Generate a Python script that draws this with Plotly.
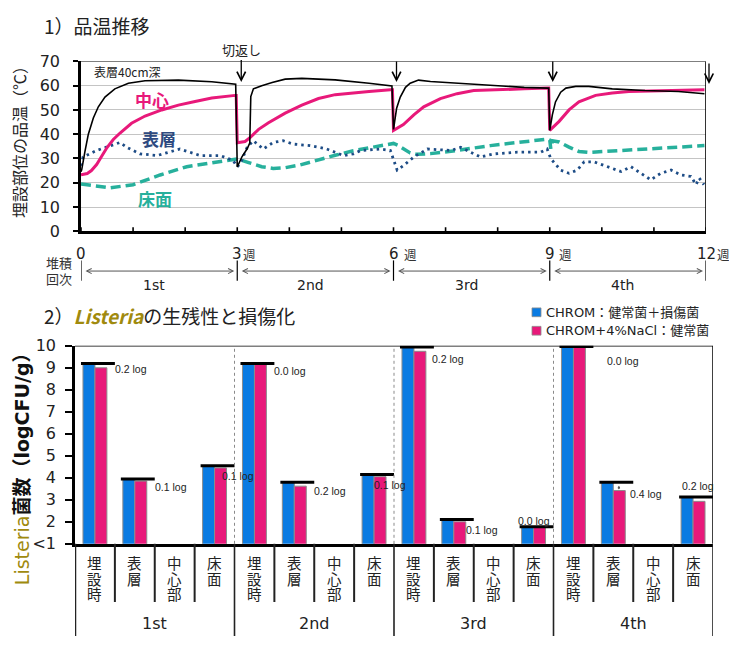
import plotly.graph_objects as go

W, H = 729, 646
LAT = "DejaVu Sans, Noto Sans CJK JP, sans-serif"
JP = "Noto Sans CJK JP, DejaVu Sans, sans-serif"

# ---------------- 1) pile temperatures (week, degC) ----------------
depth40_wk = [0, 0.013, 0.077, 0.141, 0.237, 0.333, 0.46, 0.65, 0.91, 1.23, 1.87, 2.51, 2.97,
              3.0, 3.09, 3.19, 3.24, 3.26, 3.31, 3.47, 3.67, 3.92, 4.24, 4.88, 5.53, 5.94, 5.97,
              6.0, 6.06, 6.13, 6.23, 6.32, 6.48, 6.71, 7.22, 7.86, 8.51, 8.96, 8.98,
              9.0, 9.05, 9.11, 9.21, 9.31, 9.5, 9.75, 10.2, 10.83, 11.47, 11.97]
depth40_c = [24.5, 25.3, 33.0, 40.0, 46.7, 51.3, 55.3, 58.7, 61.0, 62.0, 62.3, 61.6, 60.6,
             26.5, 30.7, 34.0, 36.3, 55.5, 58.7, 60.0, 61.3, 62.7, 63.0, 62.4, 61.0, 60.0, 59.9,
             42.0, 50.7, 55.3, 59.3, 61.0, 62.3, 61.7, 61.0, 60.3, 59.3, 59.0, 59.0,
             41.6, 48.0, 53.3, 57.3, 59.0, 59.7, 59.7, 58.7, 58.0, 57.6, 56.7]

core_wk = [0, 0.12, 0.2, 0.3, 0.4, 0.5, 0.62, 0.75, 0.97, 1.23, 1.55, 1.87, 2.19, 2.51, 2.96, 2.98,
           3.0, 3.15, 3.25, 3.41, 3.6, 3.92, 4.24, 4.56, 4.88, 5.2, 5.53, 5.94, 5.98,
           6.0, 6.19, 6.39, 6.58, 6.9, 7.22, 7.54, 7.86, 8.51, 8.96, 8.98,
           9.0, 9.18, 9.37, 9.56, 9.88, 10.2, 10.52, 10.83, 11.47, 11.97]
core_c = [23.3, 23.8, 25.0, 27.5, 31.0, 34.5, 37.8, 40.5, 44.5, 47.5, 50.0, 52.0, 53.5, 54.9, 56.0, 56.0,
          36.5, 37.0, 38.7, 42.0, 44.7, 48.7, 52.0, 54.7, 56.3, 57.0, 57.6, 58.3, 58.3,
          41.6, 44.0, 48.0, 51.3, 54.7, 56.7, 58.0, 58.3, 58.7, 59.0, 59.0,
          41.6, 45.3, 50.0, 53.3, 56.0, 57.0, 57.6, 57.7, 58.0, 58.3]

surface_wk = [0, 0.04, 0.3, 0.56, 0.75, 0.88, 1.13, 1.46, 1.9, 2.29, 2.67, 2.92, 3.0, 3.06, 3.19,
              3.31, 3.5, 3.69, 3.88, 4.08, 4.4, 4.72, 5.04, 5.23, 5.37, 5.75, 5.94, 6.07, 6.2,
              6.39, 6.65, 7.1, 7.29, 7.67, 7.93, 8.38, 8.83, 8.95, 9.02, 9.21, 9.37, 9.53, 9.66,
              9.85, 10.1, 10.37, 10.56, 10.75, 10.94, 11.13, 11.33, 11.52, 11.71, 11.81, 11.87, 11.96]
surface_c = [27.0, 30.6, 33.3, 35.3, 36.6, 34.6, 31.9, 31.2, 33.9, 31.2, 31.2, 29.2, 26.6, 27.9, 34.6,
             37.3, 33.9, 36.6, 37.3, 35.9, 35.3, 33.9, 31.2, 31.9, 33.3, 33.9, 33.3, 25.2, 27.2,
             30.6, 33.9, 33.3, 34.6, 30.6, 31.9, 32.6, 32.6, 33.9, 29.9, 25.2, 23.9, 25.2, 28.6,
             28.6, 26.6, 24.6, 26.6, 23.9, 21.2, 23.9, 25.2, 23.2, 22.6, 19.2, 21.9, 19.2]

floor_wk = [0, 0.27, 0.56, 1.0, 1.52, 2.03, 2.51, 2.83, 3.0, 3.22, 3.47, 3.69, 3.92, 4.2, 4.56,
            4.88, 5.21, 5.53, 5.85, 6.0, 6.08, 6.19, 6.32, 6.45, 6.71, 7.22, 7.86, 8.51, 8.96,
            9.0, 9.02, 9.05, 9.18, 9.37, 9.56, 9.75, 10.2, 10.83, 11.47, 11.97]
floor_c = [19.5, 18.6, 17.9, 19.2, 23.2, 26.6, 28.3, 29.3, 29.8, 28.3, 26.6, 25.9, 26.2, 27.3, 29.5,
           31.3, 33.1, 34.5, 35.6, 36.2, 35.5, 34.0, 32.3, 31.7, 32.0, 33.3, 35.3, 36.9, 38.0,
           37.6, 34.0, 37.3, 36.8, 34.7, 32.9, 32.5, 33.1, 34.0, 34.9, 35.3]

week_ticks = [0, 3, 6, 9, 12]
turn_weeks = [3, 6, 9, 12]
pile_rounds = ["1st", "2nd", "3rd", "4th"]

# ---------------- 2) Listeria counts (log CFU/g) ----------------
sites = ["埋設時", "表層", "中心部", "床面"]
rounds = ["1st", "2nd", "3rd", "4th"]
chrom = [9.2, 3.95, None, 4.55, 9.2, 3.8, None, 4.15, 9.95, 2.1, None, 1.78, 9.97, 3.8, None, 3.13]
chrom_nacl = [9.0, 3.85, None, 4.45, 9.2, 3.62, None, 4.05, 9.75, 2.0, None, 1.78, 9.97, 3.42, None, 2.93]
y_ticks = [1, 2, 3, 4, 5, 6, 7, 8, 9, 10]
y_ticktext = ["<1", "2", "3", "4", "5", "6", "7", "8", "9", "10"]

C_BLACK = "#000000"
C_PINK = "#E8197A"
C_NAVY = "#1D4C86"
C_TEAL = "#27B09C"
C_BLUE = "#0A7BE2"
C_OLIVE = "#A08A0E"


def py(p):
    return 1 - p / H


def pxx(p):
    return p / W


fig = go.Figure()

# temperature lines
fig.add_trace(go.Scatter(x=floor_wk, y=floor_c, mode="lines", line=dict(color=C_TEAL, width=3.5, dash="10px,5px"),
                         xaxis="x", yaxis="y", showlegend=False))
fig.add_trace(go.Scatter(x=surface_wk, y=surface_c, mode="lines", line=dict(color=C_NAVY, width=2.8, dash="2.5px,4px"),
                         xaxis="x", yaxis="y", showlegend=False))
fig.add_trace(go.Scatter(x=core_wk, y=core_c, mode="lines", line=dict(color=C_PINK, width=3),
                         xaxis="x", yaxis="y", showlegend=False))
fig.add_trace(go.Scatter(x=depth40_wk, y=depth40_c, mode="lines", line=dict(color=C_BLACK, width=1.6),
                         xaxis="x", yaxis="y", showlegend=False))

# Listeria bars
xs = list(range(len(chrom)))
fig.add_trace(go.Bar(x=xs, y=chrom, marker=dict(color=C_BLUE, line=dict(color="#8C8C8C", width=1)),
                     xaxis="x2", yaxis="y2", showlegend=False))
fig.add_trace(go.Bar(x=xs, y=chrom_nacl, marker=dict(color=C_PINK, line=dict(color="#8C8C8C", width=1)),
                     xaxis="x2", yaxis="y2", showlegend=False))

# reference bars (total count level) above each pair
lx, ly = [], []
for i, v in enumerate(chrom):
    if v is None:
        continue
    lx += [i - 0.35, i + 0.5, None]
    ly += [v, v, None]
fig.add_trace(go.Scatter(x=lx, y=ly, mode="lines", line=dict(color="black", width=3),
                         xaxis="x2", yaxis="y2", showlegend=False, hoverinfo="skip"))

shapes = []
ann = []

# ---- top panel frame and ticks
shapes.append(dict(type="line", xref="x", yref="y", x0=0, x1=12, y0=70, y1=70, line=dict(color="black", width=1.3)))
shapes.append(dict(type="line", xref="x", yref="y", x0=12, x1=12, y0=0, y1=70, line=dict(color="black", width=1.6)))
for w in range(0, 13):
    shapes.append(dict(type="line", xref="x", yref="y", ysizemode="pixel", yanchor=0, x0=w, x1=w,
                       y0=-5, y1=4, line=dict(color="black", width=1.6)))

# week labels
wk_shift = {3: 4, 6: 8, 9: 7, 12: 9}
for w in week_ticks:
    ann.append(dict(x=w, xref="x", y=py(252), yref="paper", text=str(w), showarrow=False,
                    font=dict(family=LAT, size=15, color="#222"), xanchor="center", yanchor="middle"))
    if w in wk_shift:
        ann.append(dict(x=w, xref="x", y=py(253), yref="paper", text="週", showarrow=False, xshift=wk_shift[w],
                        font=dict(family=JP, size=12.5, color="#333"), xanchor="left", yanchor="middle"))

# round ranges under the time axis
for w in week_ticks:
    shapes.append(dict(type="line", xref="x", yref="paper", x0=w, x1=w, y0=py(280), y1=py(259),
                       line=dict(color="black", width=1.2)))
for k, lab in enumerate(pile_rounds):
    a, b = 3 * k, 3 * k + 3
    ann.append(dict(x=b, y=py(270), xref="x", yref="paper", ax=a, ay=0, axref="x", ayref="pixel",
                    text="", showarrow=True, arrowhead=5, startarrowhead=5, arrowside="end+start",
                    arrowsize=1.0, arrowwidth=1, arrowcolor="#555", standoff=3, startstandoff=3))
    ann.append(dict(x=a + 1.5, xref="x", y=py(284), yref="paper", text=lab, showarrow=False, xshift=-5,
                    font=dict(family=LAT, size=14, color="#222"), xanchor="center", yanchor="middle"))
ann.append(dict(x=pxx(59), xref="paper", y=py(262), yref="paper", text="堆積", showarrow=False,
                font=dict(family=LAT, size=13, color="#333"), xanchor="center", yanchor="middle", borderpad=0))
ann.append(dict(x=pxx(59), xref="paper", y=py(278.5), yref="paper", text="回次", showarrow=False,
                font=dict(family=LAT, size=13, color="#333"), xanchor="center", yanchor="middle", borderpad=0))

# turning arrows
for w in turn_weeks:
    tip = 60.7 if w == 12 else 61.5
    ann.append(dict(x=w, xref="x", y=tip, yref="y", ax=0, ay=(-33 if w == 3 else -22), axref="pixel", ayref="pixel",
                    text=("切返し" if w == 3 else ""), showarrow=True, arrowhead=5, arrowsize=1.3,
                    arrowwidth=1.3, arrowcolor="black", font=dict(family=JP, size=13, color="#222"),
                    xshift=(4 if w == 3 else 3)))

# series labels
ann.append(dict(x=0.9, xref="x", y=66.0, yref="y", text="表層40cm深", showarrow=False,
                font=dict(family=JP, size=12, color="#222")))
ann.append(dict(x=1.37, xref="x", y=54.4, yref="y", text="<b>中心</b>", showarrow=False,
                font=dict(family=JP, size=17, color=C_PINK)))
ann.append(dict(x=1.50, xref="x", y=38.2, yref="y", text="<b>表層</b>", showarrow=False,
                font=dict(family=JP, size=17, color="#2E4A80")))
ann.append(dict(x=1.42, xref="x", y=13.7, yref="y", text="<b>床面</b>", showarrow=False,
                font=dict(family=JP, size=17, color=C_TEAL)))

# titles
ann.append(dict(x=pxx(42), xref="paper", y=py(17), yref="paper", text="1）品温推移", showarrow=False,
                font=dict(family=JP, size=19, color="#222"), xanchor="left", yanchor="middle"))
ann.append(dict(x=pxx(42), xref="paper", y=py(316), yref="paper",
                text=f"2）<b><i><span style='color:{C_OLIVE}'>Listeria</span></i></b>の生残性と損傷化",
                showarrow=False, font=dict(family=JP, size=19, color="#222"), xanchor="left", yanchor="middle"))
ann.append(dict(x=pxx(19), xref="paper", y=py(133), yref="paper", text="埋設部位の品温（℃）", textangle=-90,
                showarrow=False, font=dict(family=JP, size=16, color="#222"), xanchor="center", yanchor="middle"))
ann.append(dict(x=pxx(22), xref="paper", y=py(469), yref="paper",
                text=f"<span style='color:{C_OLIVE}'>Listeria</span><b>菌数（logCFU/g）</b>", textangle=-90,
                showarrow=False, font=dict(family=LAT, size=19, color="#111"), xanchor="center", yanchor="middle"))

# legend (manual)
for row, (col, lab) in enumerate([(C_BLUE, "CHROM：健常菌＋損傷菌"), (C_PINK, "CHROM+4%NaCl：健常菌")]):
    yc = 312.5 + row * 19
    shapes.append(dict(type="rect", xref="paper", yref="paper", x0=pxx(532), x1=pxx(541), y0=py(yc + 4.5),
                       y1=py(yc - 4.5), fillcolor=col, line=dict(color="#8C8C8C", width=0.8)))
    ann.append(dict(x=pxx(544), xref="paper", y=py(yc), yref="paper", text=lab, showarrow=False,
                    font=dict(family=LAT, size=13, color="#222"), xanchor="left", yanchor="middle"))

# ---- bottom panel frame, separators and category boxes
shapes.append(dict(type="line", xref="x2", yref="y2", x0=-0.5, x1=15.5, y0=10, y1=10, line=dict(color="black", width=1.5)))
for g in [3.5, 7.5, 11.5]:
    shapes.append(dict(type="line", xref="x2", yref="y2", x0=g, x1=g, y0=1, y1=10,
                       line=dict(color="#8A8A8A", width=1, dash="dot")))
for g in [-0.5, 3.5, 7.5, 11.5, 15.5]:
    shapes.append(dict(type="line", xref="x2", yref="paper", x0=g, x1=g, y0=0, y1=py(551),
                       line=dict(color="#222", width=(2.5 if g == -0.5 else 1.6))))
shapes.append(dict(type="line", xref="x2", yref="y2", x0=15.5, x1=15.5, y0=1, y1=10, line=dict(color="black", width=1.5)))
for i in range(15):
    if i % 4 == 3:
        continue
    shapes.append(dict(type="line", xref="x2", yref="paper", x0=i + 0.5, x1=i + 0.5, y0=py(611), y1=py(551),
                       line=dict(color="#222", width=2)))

# category labels (one character per row)
for i in range(16):
    word = sites[i % 4]
    for k, ch in enumerate(word):
        ann.append(dict(x=i, xref="x2", y=py(572 + 16 * k), yref="paper", text=ch, showarrow=False, borderpad=0,
                        font=dict(family=LAT, size=14.5, color="#222"), xanchor="center", yanchor="middle"))
for g, lab in enumerate(rounds):
    ann.append(dict(x=4 * g + 1.5, xref="x2", y=py(633), yref="paper", text=lab, showarrow=False,
                    font=dict(family=LAT, size=16, color="#222"), xanchor="center", yanchor="middle"))

# difference labels between the two media
lab_pos = {0: (0.45, -1), 1: (0.45, -6), 3: (0.14, -8), 4: (0.45, -8), 5: (0.45, -5), 7: (-0.05, -8),
           8: (0.4, -8), 9: (0.25, -8), 11: (-0.45, 6), 12: (0.78, -15), 13: (0.36, -3), 15: (-0.32, 15)}
for i, (b, p) in enumerate(zip(chrom, chrom_nacl)):
    if b is None:
        continue
    dx, dy = lab_pos[i]
    ann.append(dict(x=i + dx, xref="x2", y=p, yref="y2", yshift=dy, text=f"{b - p:.1f} log", showarrow=False,
                    font=dict(family="Liberation Sans, Arial, sans-serif", size=10.5, color="#222"),
                    xanchor="left", yanchor="middle"))
# small gap marker for the largest difference
ann.append(dict(x=13.14, xref="x2", y=chrom_nacl[13], yref="y2", ax=13.14, ay=chrom[13], axref="x2", ayref="y2",
                text="", showarrow=True, arrowhead=2, startarrowhead=2, arrowside="end+start", arrowsize=0.5,
                arrowwidth=1, arrowcolor="#555", standoff=1, startstandoff=2))

fig.update_layout(
    width=W, height=H, margin=dict(l=0, r=0, t=0, b=0),
    paper_bgcolor="white", plot_bgcolor="white",
    barmode="group", bargap=0.4, bargroupgap=0,
    showlegend=False,
    xaxis=dict(domain=[pxx(81), pxx(706)], range=[0, 12], anchor="y", showgrid=False, zeroline=False,
               showline=True, linecolor="black", linewidth=2.5, ticks="", showticklabels=False, fixedrange=True),
    yaxis=dict(domain=[py(229), py(54)], range=[0, 70], anchor="x", tickvals=list(range(0, 71, 10)),
               showgrid=True, gridcolor="#C4C4C4", gridwidth=1, zeroline=False, showline=True,
               linecolor="black", linewidth=2.5, ticks="outside", ticklen=5, tickwidth=1.5, tickcolor="black",
               tickfont=dict(family=LAT, size=16, color="#222"), ticklabelstandoff=10),
    xaxis2=dict(domain=[pxx(75), pxx(713)], range=[-0.5, 15.5], anchor="y2", showgrid=False, zeroline=False,
                showline=True, linecolor="black", linewidth=3, ticks="", showticklabels=False),
    yaxis2=dict(domain=[py(551), py(347)], range=[1, 10], anchor="x2", tickvals=y_ticks, ticktext=y_ticktext,
                showgrid=False, zeroline=False, showline=True, linecolor="black", linewidth=2.5,
                ticks="outside", ticklen=7, tickwidth=1.5, tickcolor="black",
                tickfont=dict(family=LAT, size=16, color="#222"), ticklabelstandoff=6),
    shapes=shapes,
    annotations=ann,
)

fig.write_html("out.html")
